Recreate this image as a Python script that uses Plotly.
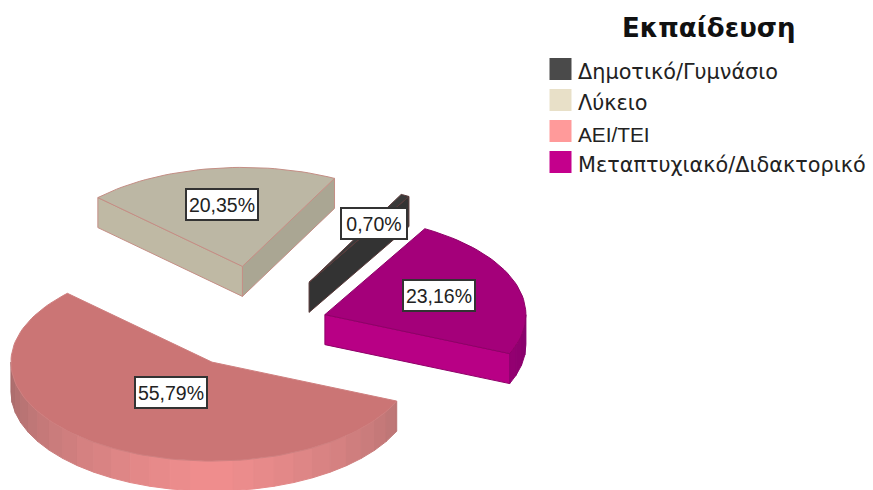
import math
import plotly.graph_objects as go

# Survey results: share of respondents per education level
title = "Εκπαίδευση"
categories = ["Δημοτικό/Γυμνάσιο", "Λύκειο", "ΑΕΙ/ΤΕΙ", "Μεταπτυχιακό/Διδακτορικό"]
shares = [0.70, 20.35, 55.79, 23.16]

# Pie projection
CENTER = (262, 325)
RX, RY = 201, 99
DEPTH = 30
START_DEG = 60.2
explode = [0.49, 0.60, 0.45, 0.33]
label_radius = [0.68, 0.63, 0.37, 0.60]

# Slice colours
legend_colors = ["#4a4a4a", "#e8e0c8", "#ff9a9a", "#c4008c"]
top_colors = ["#3a3a3a", "#bcb7a4", "#cb7575", "#a4007a"]
start_side = ["#333333", "#aaa693", "#cb7575", "#b80085"]
end_side = ["#333333", "#bfb9a4", "#cb7575", "#b80085"]
rim_light = ["#333333", "#bcb7a4", "#f08e8e", "#b80085"]
rim_dark = ["#333333", "#aaa693", "#a56a6a", "#85006a"]
edge_colors = ["#5a3a3a", "#c48e85", "#cf8080", "#8f0068"]
RIM_STEP = 6


def hex_mix(c1, c2, t):
    a = [int(c1[i:i + 2], 16) for i in (1, 3, 5)]
    b = [int(c2[i:i + 2], 16) for i in (1, 3, 5)]
    return "rgb(%d,%d,%d)" % tuple(round(p + (q - p) * t) for p, q in zip(a, b))


def project(cx, cy, deg, r=1.0):
    th = math.radians(deg)
    return cx + r * RX * math.cos(th), cy - r * RY * math.sin(th)


def frange(a, b, step):
    out = [a]
    while out[-1] + step < b:
        out.append(out[-1] + step)
    out.append(b)
    return out


fig = go.Figure()


def add_poly(pts, fill, line):
    xs = [p[0] for p in pts] + [pts[0][0]]
    ys = [p[1] for p in pts] + [pts[0][1]]
    fig.add_trace(go.Scatter(
        x=xs, y=ys, mode="lines", fill="toself", fillcolor=fill,
        line=dict(color=line, width=1), showlegend=False, hoverinfo="skip",
    ))


annotations = []
angle = START_DEG
total = sum(shares)
for i, (name, val) in enumerate(zip(categories, shares)):
    s = angle
    e = angle + val / total * 360
    angle = e
    mid = (s + e) / 2
    ax, ay = project(CENTER[0], CENTER[1], mid, explode[i])

    # Flat side faces, visible only when they turn toward the viewer
    if math.cos(math.radians(s)) > 0:
        px, py = project(ax, ay, s)
        add_poly([(ax, ay), (px, py), (px, py + DEPTH), (ax, ay + DEPTH)], start_side[i], edge_colors[i])
    if math.cos(math.radians(e)) < 0:
        px, py = project(ax, ay, e)
        add_poly([(ax, ay), (px, py), (px, py + DEPTH), (ax, ay + DEPTH)], end_side[i], edge_colors[i])

    # Curved rim, shaded band by band around the front of the pie
    for lo_base in range(180, 720, RIM_STEP):
        lo, hi = max(lo_base, s), min(lo_base + RIM_STEP, e)
        if hi <= lo or (lo_base % 360) < 180:
            continue
        m = (lo + hi) / 2
        t = min(abs(((m % 360) - 270)) / 90, 1) ** 1.2
        col = hex_mix(rim_light[i], rim_dark[i], t)
        a0 = project(ax, ay, lo)
        a1 = project(ax, ay, hi)
        add_poly([a0, a1, (a1[0], a1[1] + DEPTH), (a0[0], a0[1] + DEPTH)], col, col)

    # Top face
    arc = [project(ax, ay, d) for d in frange(s, e, 2)]
    add_poly([(ax, ay)] + arc, top_colors[i], edge_colors[i])

    # Value label on the slice, boxed to fit its text
    lx, ly = project(ax, ay, mid, label_radius[i])
    label = f"{val:.2f}%".replace(".", ",")
    annotations.append(dict(
        x=lx, y=ly, xref="x", yref="y", showarrow=False,
        text=label,
        width=34 + 6 * len(label), height=29, align="center",
        font=dict(family="Liberation Sans", size=19.5, color="#222222"),
        bgcolor="#ffffff", bordercolor="#333333", borderwidth=2, borderpad=0,
    ))

# Legend: swatches drawn as markers, names as text
legend_x, legend_y0, legend_dy = 560.5, 69, 31
for i, name in enumerate(categories):
    y = legend_y0 + i * legend_dy
    fig.add_trace(go.Scatter(
        x=[legend_x], y=[y], mode="markers", name=name,
        marker=dict(symbol="square", size=22, color=legend_colors[i]),
        showlegend=False, hoverinfo="skip",
    ))
    # The all-capitals entry runs narrower than the mixed-case ones
    family = "Liberation Sans" if name.isupper() else "DejaVu Sans"
    annotations.append(dict(
        x=576, y=y + 3, xref="x", yref="y", xanchor="left", showarrow=False, text=name,
        font=dict(family=family, size=20.8, color="#222222"),
    ))

annotations.append(dict(
    x=708.5, y=28, xref="x", yref="y", showarrow=False, text=f"<b>{title}</b>",
    font=dict(family="DejaVu Sans", size=26, color="#111111"),
))

fig.update_layout(
    width=873, height=490, margin=dict(l=0, r=0, t=0, b=0),
    paper_bgcolor="#ffffff", plot_bgcolor="#ffffff",
    xaxis=dict(range=[0, 873], visible=False, fixedrange=True),
    yaxis=dict(range=[490, 0], visible=False, fixedrange=True),
    annotations=annotations,
)
fig.write_html("out.html", config=dict(displayModeBar=False))
